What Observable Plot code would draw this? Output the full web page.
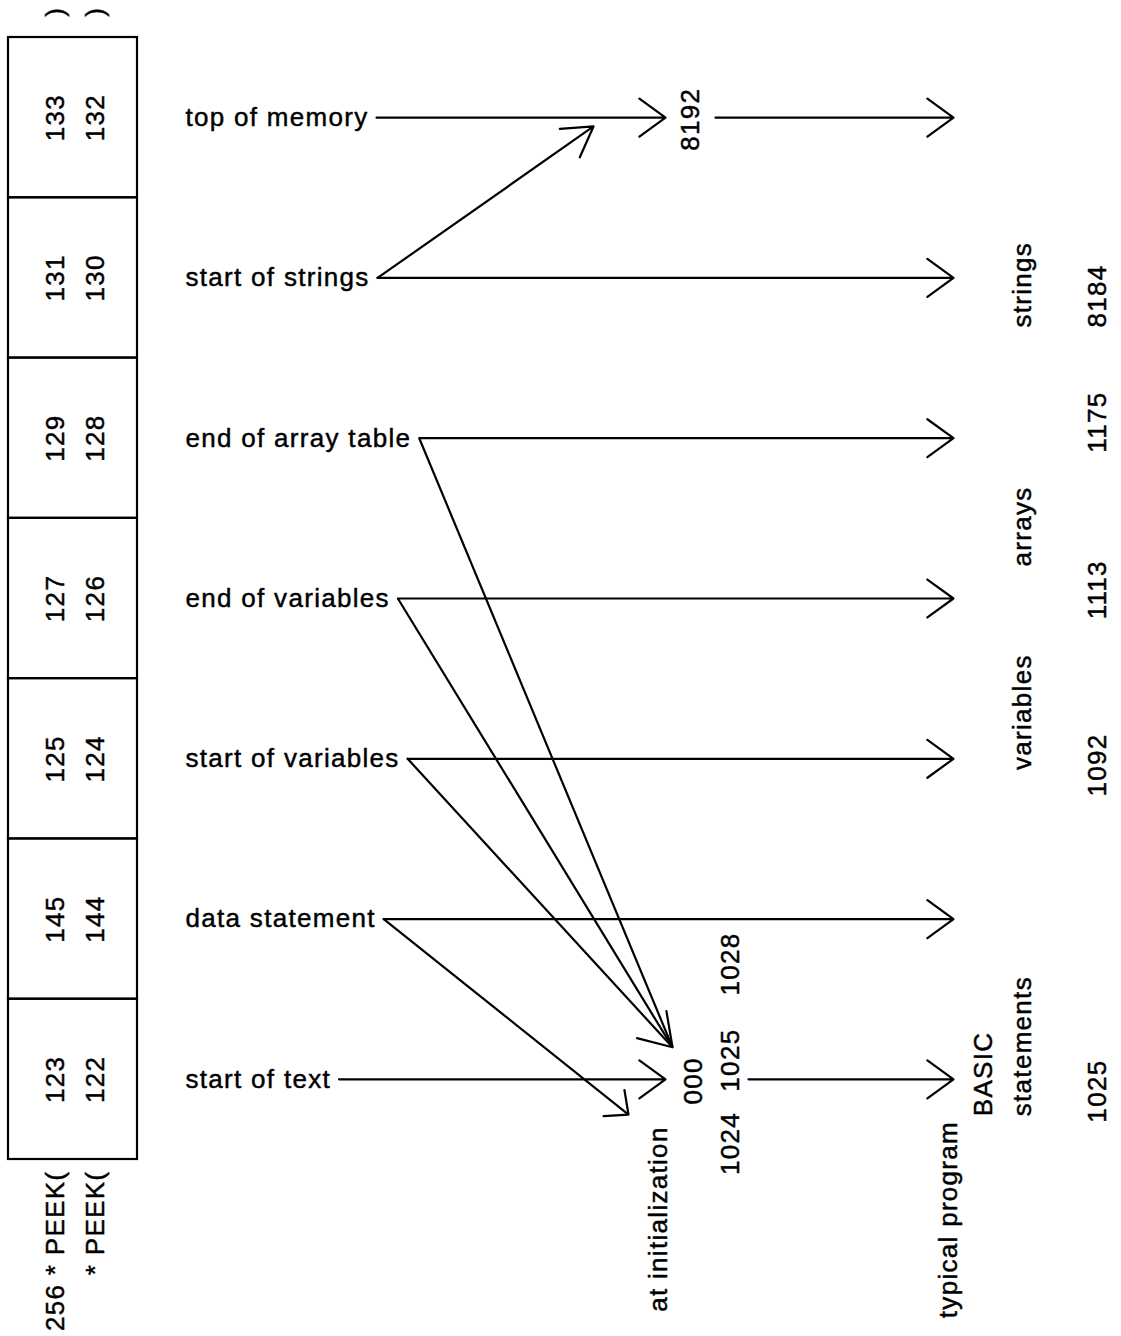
<!DOCTYPE html>
<html>
<head>
<meta charset="utf-8">
<script src="https://cdn.jsdelivr.net/npm/d3@7"></script>
<script src="https://cdn.jsdelivr.net/npm/@observablehq/plot@0.6"></script>
<style>
  html, body { margin: 0; padding: 0; background: #fff; }
  #chart svg { display: block; }
</style>
</head>
<body>
<div id="chart"></div>
<script>
// ---------------- DATA ----------------
const pointers = ["top of memory", "start of strings", "end of array table", "end of variables",
                  "start of variables", "data statement", "start of text"];
const peekHigh = [133, 131, 129, 127, 125, 145, 123];
const peekLow  = [132, 130, 128, 126, 124, 144, 122];
const peekFormula = ["256 * PEEK(", "* PEEK("];
const peekClose = [")", ")"];
const initValues = ["8192", "000", "1028", "1025", "1024"];
const typicalValues = ["8184", "1175", "1113", "1092", "1025"];
const regionNames = ["strings", "arrays", "variables", "BASIC", "statements"];
const columnTitles = ["at initialization", "typical program"];

// ---------------- LAYOUT (positions, kept apart from the data) ----------------
const FONT = "'Liberation Sans', Arial, Helvetica, sans-serif";
const FS = 26, LS = 1.3;
const col = {boxL: 8, boxR: 137, hi: 55, lo: 95, label: 185, initTip: 665, initVal: 690,
             initNum: 730, initTitle: 658, out0: 715, out6: 748, memTip: 953,
             typTitle: 948, basic: 983, region: 1022, value: 1097,
             strTip: 593, convTip: 672, dataTip: 628};
// vertical positions in "row" units (row i = pointer i)
const rowPos = {close: -0.63, formula: 6.57, strTip: 0.055, convTip: 5.80, dataTip: 6.22};

// measure labels so that the pointer lines start right after them
const ctx = document.createElement("canvas").getContext("2d");
ctx.font = `${FS}px ${FONT}`;
const rows = pointers.map((p, i) => ({
  name: p, r: i, hi: peekHigh[i], lo: peekLow[i],
  end: col.label + ctx.measureText(p).width + LS * p.length + 8
}));

// horizontal pointer arrows
const horiz = rows.map(d => ({x1: d.end, x2: (d.r === 0 || d.r === 6) ? col.initTip : col.memTip, y: d.r}));
horiz.push({x1: col.out0, x2: col.memTip, y: 0});
horiz.push({x1: col.out6, x2: col.memTip, y: 6});

// diagonal arrows (initial values)
const diagStrings = [{x1: rows[1].end, y1: 1, x2: col.strTip, y2: rowPos.strTip}];
const diagConv = [{x1: rows[4].end, y1: 4, x2: col.convTip, y2: rowPos.convTip}];
const diagLinks = [2, 3].map(i => ({x1: rows[i].end, y1: i, x2: col.convTip, y2: rowPos.convTip}));
const diagData = [{x1: rows[5].end, y1: 5, x2: col.dataTip, y2: rowPos.dataTip}];

// rotated annotations
const notes = [
  {t: peekClose[0], x: col.hi, r: rowPos.close, a: "start"},
  {t: peekClose[1], x: col.lo, r: rowPos.close, a: "start"},
  {t: peekFormula[0], x: col.hi, r: rowPos.formula, a: "end"},
  {t: peekFormula[1], x: col.lo, r: rowPos.formula, a: "end"},
  {t: initValues[0], x: col.initVal, r: 0.01, a: "middle"},
  {t: initValues[1], x: col.initVal + 3, r: 6.01, a: "middle"},
  {t: initValues[2], x: col.initNum, r: 5.28, a: "middle"},
  {t: initValues[3], x: col.initNum, r: 5.88, a: "middle"},
  {t: initValues[4], x: col.initNum, r: 6.40, a: "middle"},
  {t: columnTitles[0], x: col.initTitle, r: 7.45, a: "start"},
  {t: columnTitles[1], x: col.typTitle, r: 7.49, a: "start"},
  {t: regionNames[0], x: col.region, r: 1.31, a: "start"},
  {t: typicalValues[0], x: col.value, r: 1.31, a: "start"},
  {t: typicalValues[1], x: col.value, r: 2.09, a: "start"},
  {t: regionNames[1], x: col.region, r: 2.80, a: "start"},
  {t: typicalValues[2], x: col.value, r: 3.13, a: "start"},
  {t: regionNames[2], x: col.region, r: 4.07, a: "start"},
  {t: typicalValues[3], x: col.value, r: 4.235, a: "start"},
  {t: regionNames[3], x: col.basic, r: 6.23, a: "start"},
  {t: regionNames[4], x: col.region, r: 6.23, a: "start"},
  {t: typicalValues[4], x: col.value, r: 6.27, a: "start"}
];

const ink = "#000";
const textStyle = {fontSize: FS, fill: ink, stroke: ink, strokeWidth: 0.45};
const rotText = (anchor) => Plot.text(notes.filter(d => d.a === anchor), {
  x: "x", y: "r", text: "t", rotate: -90, textAnchor: anchor, lineAnchor: "middle", ...textStyle
});

const chart = Plot.plot({
  width: 1121,
  height: 1336,
  margin: 0,
  x: {domain: [0, 1121], range: [0, 1121], axis: null},
  y: {domain: [-0.5, 6.5], range: [37, 1159], axis: null},
  style: {fontFamily: FONT, fontSize: FS + "px", letterSpacing: LS + "px", color: ink, background: "#fff"},
  marks: [
    // memory-location box
    Plot.rect(rows, {x1: () => col.boxL, x2: () => col.boxR, y1: d => d.r - 0.5, y2: d => d.r + 0.5,
                     fill: "none", stroke: ink, strokeWidth: 2.2}),
    Plot.text(rows, {x: () => col.hi, y: "r", text: "hi", rotate: -90, textAnchor: "middle", lineAnchor: "middle", ...textStyle}),
    Plot.text(rows, {x: () => col.lo, y: "r", text: "lo", rotate: -90, textAnchor: "middle", lineAnchor: "middle", ...textStyle}),
    // pointer labels
    Plot.text(rows, {x: () => col.label, y: "r", text: "name", textAnchor: "start", lineAnchor: "middle", ...textStyle}),
    // arrows
    Plot.arrow(horiz, {x1: "x1", x2: "x2", y1: "y", y2: "y", stroke: ink, strokeWidth: 2.2, headAngle: 72, headLength: 22}),
    Plot.arrow(diagStrings, {x1: "x1", y1: "y1", x2: "x2", y2: "y2", stroke: ink, strokeWidth: 2.2, headAngle: 62, headLength: 23}),
    Plot.arrow(diagConv, {x1: "x1", y1: "y1", x2: "x2", y2: "y2", stroke: ink, strokeWidth: 2.2, headAngle: 66, headLength: 25}),
    Plot.link(diagLinks, {x1: "x1", y1: "y1", x2: "x2", y2: "y2", stroke: ink, strokeWidth: 2.2}),
    Plot.arrow(diagData, {x1: "x1", y1: "y1", x2: "x2", y2: "y2", stroke: ink, strokeWidth: 2.2, headAngle: 84, headLength: 17}),
    // rotated annotations
    rotText("start"),
    rotText("middle"),
    rotText("end")
  ]
});

document.getElementById("chart").appendChild(chart);
</script>
</body>
</html>
